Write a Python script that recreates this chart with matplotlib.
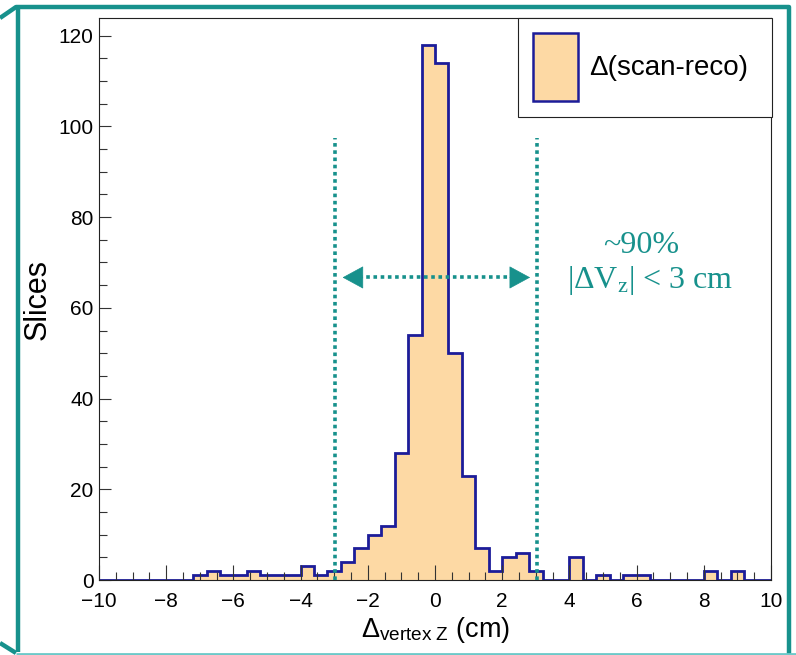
import numpy as np
import matplotlib
matplotlib.use("Agg")
import matplotlib.pyplot as plt
from matplotlib.patches import Patch
from matplotlib.lines import Line2D

# ---------------- data ----------------
bin_edges = np.linspace(-10, 10, 51)
counts = [0, 0, 0, 0, 0, 0, 0, 1, 2, 1,
          1, 2, 1, 1, 1, 3, 1, 2, 4, 7,
          10, 12, 28, 54, 118, 114, 50, 23, 7, 2,
          5, 6, 2, 0, 0, 5, 0, 1, 0, 1,
          1, 0, 0, 0, 0, 2, 0, 2, 0, 0]
series_label = "Δ(scan-reco)"
cut_lines = [-2.98, 3.04]
arrow_ends = [-2.75, 2.83]
arrow_y = 66.7
cut_top = 97.4
xticks = [-10, -8, -6, -4, -2, 0, 2, 4, 6, 8, 10]
yticks = [0, 20, 40, 60, 80, 100, 120]

FILL = "#fdd9a4"
EDGE = "#1c1c99"
TEAL = "#17918c"

plt.rcParams['font.family'] = ['Liberation Sans', 'DejaVu Sans']
plt.rcParams['mathtext.fontset'] = 'custom'
plt.rcParams['mathtext.rm'] = 'Liberation Serif'
plt.rcParams['mathtext.sf'] = 'Liberation Sans'
plt.rcParams['mathtext.it'] = 'Liberation Serif:italic'

W, H = 796, 655
fig = plt.figure(figsize=(W / 100, H / 100), dpi=100)
ax = fig.add_axes([99 / W, 1 - 580 / H, (771 - 99) / W, (580 - 18) / H])

ax.stairs(counts, bin_edges, fill=True, color=FILL, linewidth=0)
ax.stairs(counts, bin_edges, fill=False, color=EDGE, linewidth=2.0, baseline=0)

ax.set_xlim(-10, 10)
ax.set_ylim(0, 123.9)

ax.set_xticks(xticks)
ax.set_yticks(yticks)
ax.set_xticks(np.arange(-10, 10.01, 0.5), minor=True)
ax.set_yticks(np.arange(0, 123, 5), minor=True)
ax.tick_params(axis='x', which='major', direction='in', length=10.8, width=0.8,
               labelsize=15, pad=8.5, top=False, color='#333333')
ax.tick_params(axis='x', which='minor', direction='in', length=5.8, width=0.8,
               top=False, color='#333333')
ax.tick_params(axis='y', which='major', direction='in', length=8.5, width=0.8,
               labelsize=15, pad=4, right=False, color='#333333')
ax.tick_params(axis='y', which='minor', direction='in', length=5.5, width=0.8,
               right=False, color='#333333')
for s in ax.spines.values():
    s.set_linewidth(0.8)
    s.set_color('#222222')

ax.set_xlabel(r'$\mathsf{\Delta}_{\mathsf{vertex\ Z}}$ (cm)', fontsize=19.5, labelpad=3)
ax.set_ylabel('Slices', fontsize=22, labelpad=4)

# cut lines and arrow
for xc in cut_lines:
    ax.plot([xc, xc], [0, cut_top], color=TEAL, linewidth=2.6,
            linestyle=(0, (1, 1)), dash_capstyle='butt', zorder=5)
ax.plot([arrow_ends[0] + 0.5, arrow_ends[1] - 0.5], [arrow_y, arrow_y], color=TEAL,
        linewidth=2.6, linestyle=(0, (1, 1)), dash_capstyle='butt', zorder=5)
for tip, d in [(arrow_ends[0], 0.6), (arrow_ends[1], -0.6)]:
    ax.annotate('', xy=(tip, arrow_y), xytext=(tip + d, arrow_y),
                arrowprops=dict(arrowstyle='-|>,head_length=0.7,head_width=0.38',
                                color=TEAL, lw=0.5, shrinkA=0, shrinkB=0,
                                mutation_scale=20), zorder=6)

ax.text(6.13, 73.8, '~90%', color=TEAL, fontsize=23, family='Liberation Serif',
        ha='center', va='center')
ax.text(6.4, 66.0, r'$|\Delta$V$_{\rm z}|$ < 3 cm', color=TEAL, fontsize=23,
        family='Liberation Serif', ha='center', va='center')

# legend
h = Patch(facecolor=FILL, edgecolor=EDGE, linewidth=1.8)
leg = ax.legend([h], [series_label], loc='upper left',
                bbox_to_anchor=((518 - 99) / 672, 1.0, (772 - 518) / 672, 0),
                mode='expand', borderaxespad=0, fancybox=False, edgecolor='#222222',
                framealpha=1, fontsize=20, handlelength=1.6, handleheight=3.4,
                borderpad=0.55, handletextpad=0.4)
leg.get_frame().set_linewidth(0.8)

# slide frame
def P(x, y):
    return x / W, 1 - y / H
def line(pts, color, lw):
    xs = [P(*p)[0] for p in pts]
    ys = [P(*p)[1] for p in pts]
    fig.add_artist(Line2D(xs, ys, transform=fig.transFigure, color=color,
                          linewidth=lw, solid_capstyle='butt'))

line([(0, 18), (16, 7), (789, 7), (789, 655)], TEAL, 3.2)
line([(17.5, 7), (17.5, 652)], TEAL, 3.2)
line([(0, 643), (16, 653)], TEAL, 3.2)
line([(16, 653.5), (796, 653.5)], '#6cc9c9', 2.0)

fig.savefig('out.png', dpi=100)
